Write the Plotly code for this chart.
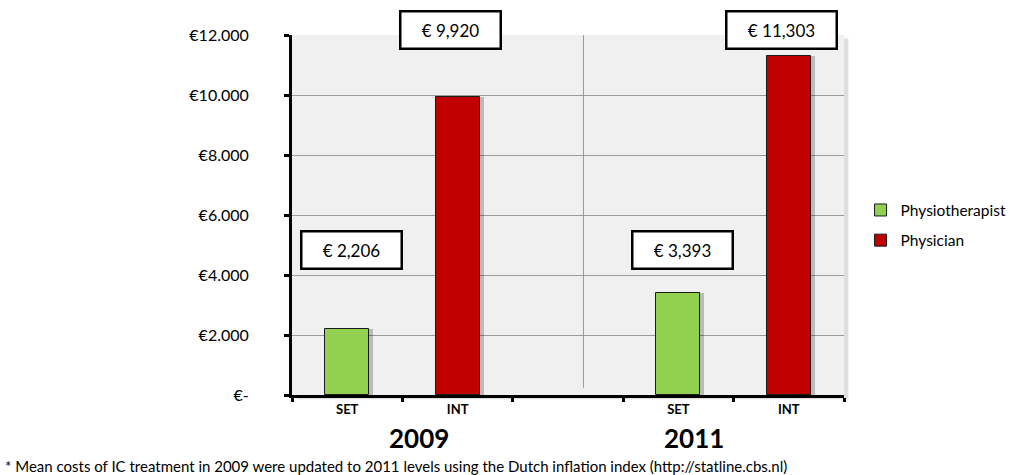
import plotly.graph_objects as go

# ---- data ----
x_labels = ["SET", "INT", "", "SET", "INT"]
x_positions = [0, 1, 2, 3, 4]
physio_x = [0, 3]
physio_values = [2206, 3393]
physician_x = [1, 4]
physician_values = [9920, 11303]
value_labels = ["€ 2,206", "€ 9,920", "€ 3,393", "€ 11,303"]
label_x = [0, 1, 3, 4]
label_values = [2206, 9920, 3393, 11303]
year_labels = ["2009", "2011"]
year_x = [0.65, 3.14]
y_ticks = [0, 2000, 4000, 6000, 8000, 10000, 12000]
y_tick_text = ["€-", "€2.000", "€4.000", "€6.000", "€8.000", "€10.000", "€12.000"]
footnote = "* Mean costs of IC treatment in 2009 were updated to 2011 levels using the Dutch inflation index (http://statline.cbs.nl)"

FONT = "Lato, 'Open Sans', sans-serif"
GREEN = "#92D050"
RED = "#C00000"
BAR_W = 0.4

fig = go.Figure()

# shadows
for xs, ys in [(physio_x, physio_values), (physician_x, physician_values)]:
    fig.add_trace(go.Bar(x=xs, y=ys, width=BAR_W, offset=-BAR_W / 2 + 0.035,
                         marker=dict(color="rgba(0,0,0,0.22)", line=dict(width=0)),
                         showlegend=False, hoverinfo="skip"))

fig.add_trace(go.Bar(name="Physiotherapist", x=physio_x, y=physio_values, width=BAR_W,
                     legendgroup="a",
                     marker=dict(color=GREEN, line=dict(color="#1a1a1a", width=1))))
fig.add_trace(go.Bar(name="Physician", x=physician_x, y=physician_values, width=BAR_W,
                     legendgroup="b",
                     marker=dict(color=RED, line=dict(color="#1a1a1a", width=1))))

annotations = []
for lx, lv, txt in zip(label_x, label_values, value_labels):
    is_top = lv > 6000
    annotations.append(dict(
        x=lx, y=1.014 if is_top else 0.403, xref="x", yref="paper", yanchor="middle",
        text=txt, showarrow=False,
        xshift=-7 if is_top else 4,
        font=dict(family=FONT, size=17, color="black"),
        bgcolor="white", bordercolor="black", borderwidth=2.5, borderpad=2,
        width=94 if lv < 11000 else 104, height=31,
    ))
for yx, yt in zip(year_x, year_labels):
    annotations.append(dict(x=yx, y=-0.119, xref="x", yref="paper", yanchor="middle",
                            text="<b>%s</b>" % yt, showarrow=False, borderpad=0,
                            font=dict(family=FONT, size=26, color="black")))
annotations.append(dict(x=-0.522, y=-0.197, xref="paper", yref="paper", xanchor="left",
                        yanchor="middle", text=footnote, showarrow=False, borderpad=0,
                        font=dict(family=FONT, size=15, color="black")))

fig.update_layout(
    width=1024, height=475,
    margin=dict(l=292, r=177, t=35, b=80),
    paper_bgcolor="white", plot_bgcolor="rgba(0,0,0,0)",
    barmode="overlay", bargap=0,
    font=dict(family=FONT, color="black"),
    showlegend=True,
    legend=dict(x=1.03, y=0.56, xanchor="left", yanchor="top",
                font=dict(family=FONT, size=15.5, color="black"),
                bgcolor="rgba(0,0,0,0)", tracegroupgap=7, traceorder="grouped"),
    annotations=annotations,
    shapes=[
        dict(type="rect", xref="paper", yref="paper", x0=0.01, x1=1.008, y0=-0.012, y1=0.99,
             fillcolor="rgba(0,0,0,0.13)", line=dict(width=0), layer="below"),
        dict(type="rect", xref="paper", yref="paper", x0=0, x1=1, y0=0, y1=1,
             fillcolor="#F0F0F0", line=dict(width=0), layer="below"),
        dict(type="line", xref="x", yref="paper", x0=2.14, x1=2.14, y0=0.02, y1=1,
             line=dict(color="#9a9a9a", width=1), layer="below"),
    ],
    xaxis=dict(
        range=[-0.5, 4.5], tickmode="array", tickvals=x_positions, ticktext=["<b>%s</b>" % t if t else "" for t in x_labels],
        ticks="", showgrid=False, zeroline=False,
        showline=True, linecolor="black", linewidth=3,
        tickfont=dict(family=FONT, size=13, color="black"),
        minor=dict(tickmode="array", tickvals=[-0.5, 0.5, 1.5, 2.5, 3.5, 4.5], ticks="outside",
                   ticklen=4, tickwidth=2.5, tickcolor="black", showgrid=False),
        fixedrange=True,
    ),
    yaxis=dict(
        range=[0, 12000], tickmode="array", tickvals=y_ticks, ticktext=y_tick_text,
        ticks="outside", ticklen=5, tickwidth=2.5, tickcolor="black",
        showgrid=True, gridcolor="#9a9a9a", gridwidth=1, zeroline=False,
        showline=True, linecolor="black", linewidth=3,
        tickfont=dict(family=FONT, size=16, color="black"),
        ticklabelstandoff=32,
        fixedrange=True,
    ),
)

fig.write_html("out.html")
